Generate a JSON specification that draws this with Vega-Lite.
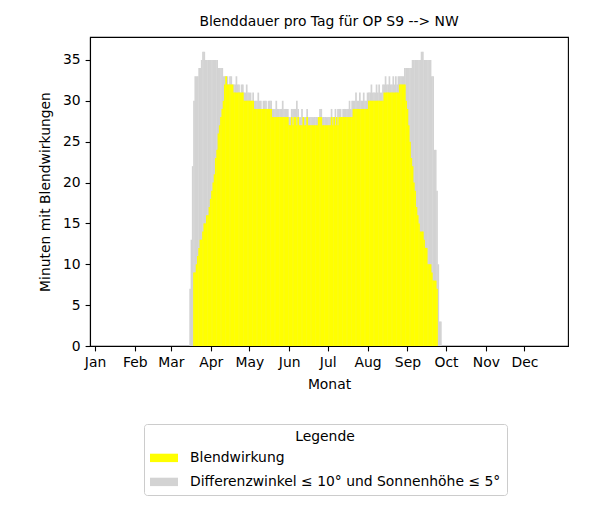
{
  "$schema": "https://vega.github.io/schema/vega-lite/v6.json",
  "width": 478,
  "height": 309,
  "autosize": {"type": "none"},
  "padding": {"left": 90, "top": 37, "right": 36, "bottom": 161},
  "background": "white",
  "title": {"text": "Blenddauer pro Tag für OP S9 --> NW", "fontSize": 13.9, "font": "DejaVu Sans", "fontWeight": "normal", "color": "black", "offset": 8, "anchor": "middle"},
  "datasets": {
    "grau": [
      {"d":74,"m":7},{"d":75,"m":13},{"d":76,"m":22},{"d":77,"m":30},{"d":78,"m":33},{"d":79,"m":33},{"d":80,"m":33},{"d":81,"m":34},{"d":82,"m":34},{"d":83,"m":35},
      {"d":84,"m":36},{"d":85,"m":36},{"d":86,"m":35},{"d":87,"m":35},{"d":88,"m":35},{"d":89,"m":35},{"d":90,"m":35},{"d":91,"m":35},{"d":92,"m":35},{"d":93,"m":35},
      {"d":94,"m":35},{"d":95,"m":35},{"d":96,"m":34},{"d":97,"m":34},{"d":98,"m":34},{"d":99,"m":34},{"d":100,"m":33},{"d":101,"m":33},{"d":102,"m":33},{"d":103,"m":33},
      {"d":104,"m":32},{"d":105,"m":33},{"d":106,"m":33},{"d":107,"m":32},{"d":108,"m":32},{"d":109,"m":32},{"d":110,"m":33},{"d":111,"m":32},{"d":112,"m":32},{"d":113,"m":31},
      {"d":114,"m":32},{"d":115,"m":32},{"d":116,"m":31},{"d":117,"m":31},{"d":118,"m":32},{"d":119,"m":31},{"d":120,"m":31},{"d":121,"m":31},{"d":122,"m":30},{"d":123,"m":31},
      {"d":124,"m":30},{"d":125,"m":30},{"d":126,"m":30},{"d":127,"m":31},{"d":128,"m":30},{"d":129,"m":30},{"d":130,"m":29},{"d":131,"m":30},{"d":132,"m":30},{"d":133,"m":30},
      {"d":134,"m":29},{"d":135,"m":30},{"d":136,"m":30},{"d":137,"m":30},{"d":138,"m":29},{"d":139,"m":29},{"d":140,"m":29},{"d":141,"m":30},{"d":142,"m":29},{"d":143,"m":29},
      {"d":144,"m":29},{"d":145,"m":29},{"d":146,"m":30},{"d":147,"m":29},{"d":148,"m":29},{"d":149,"m":29},{"d":150,"m":29},{"d":151,"m":28},{"d":152,"m":28},{"d":153,"m":29},
      {"d":154,"m":29},{"d":155,"m":29},{"d":156,"m":29},{"d":157,"m":30},{"d":158,"m":29},{"d":159,"m":28},{"d":160,"m":28},{"d":161,"m":29},{"d":162,"m":28},{"d":163,"m":28},
      {"d":164,"m":28},{"d":165,"m":29},{"d":166,"m":28},{"d":167,"m":28},{"d":168,"m":28},{"d":169,"m":28},{"d":170,"m":28},{"d":171,"m":28},{"d":172,"m":28},{"d":173,"m":28},
      {"d":174,"m":28},{"d":175,"m":29},{"d":176,"m":29},{"d":177,"m":28},{"d":178,"m":28},{"d":179,"m":28},{"d":180,"m":28},{"d":181,"m":28},{"d":182,"m":28},{"d":183,"m":28},
      {"d":184,"m":29},{"d":185,"m":28},{"d":186,"m":28},{"d":187,"m":29},{"d":188,"m":28},{"d":189,"m":29},{"d":190,"m":29},{"d":191,"m":29},{"d":192,"m":28},{"d":193,"m":29},
      {"d":194,"m":29},{"d":195,"m":29},{"d":196,"m":29},{"d":197,"m":29},{"d":198,"m":30},{"d":199,"m":29},{"d":200,"m":30},{"d":201,"m":30},{"d":202,"m":30},{"d":203,"m":31},
      {"d":204,"m":30},{"d":205,"m":30},{"d":206,"m":31},{"d":207,"m":30},{"d":208,"m":30},{"d":209,"m":31},{"d":210,"m":30},{"d":211,"m":30},{"d":212,"m":31},{"d":213,"m":31},
      {"d":214,"m":31},{"d":215,"m":32},{"d":216,"m":31},{"d":217,"m":31},{"d":218,"m":31},{"d":219,"m":32},{"d":220,"m":31},{"d":221,"m":32},{"d":222,"m":31},{"d":223,"m":31},
      {"d":224,"m":32},{"d":225,"m":32},{"d":226,"m":33},{"d":227,"m":32},{"d":228,"m":32},{"d":229,"m":33},{"d":230,"m":32},{"d":231,"m":32},{"d":232,"m":33},{"d":233,"m":32},
      {"d":234,"m":33},{"d":235,"m":32},{"d":236,"m":33},{"d":237,"m":33},{"d":238,"m":33},{"d":239,"m":33},{"d":240,"m":33},{"d":241,"m":34},{"d":242,"m":34},{"d":243,"m":34},
      {"d":244,"m":34},{"d":245,"m":34},{"d":246,"m":34},{"d":247,"m":35},{"d":248,"m":35},{"d":249,"m":35},{"d":250,"m":35},{"d":251,"m":35},{"d":252,"m":35},{"d":253,"m":35},
      {"d":254,"m":36},{"d":255,"m":36},{"d":256,"m":35},{"d":257,"m":35},{"d":258,"m":35},{"d":259,"m":35},{"d":260,"m":35},{"d":261,"m":35},{"d":262,"m":33},{"d":263,"m":33},
      {"d":264,"m":24},{"d":265,"m":24},{"d":266,"m":19},{"d":267,"m":10},{"d":268,"m":3},{"d":269,"m":3}
    ],
    "gelb": [
      {"d":77,"m":9},{"d":78,"m":9},{"d":79,"m":10},{"d":80,"m":11},{"d":81,"m":12},{"d":82,"m":13},{"d":83,"m":13},{"d":84,"m":14},{"d":85,"m":15},{"d":86,"m":15},
      {"d":87,"m":16},{"d":88,"m":16},{"d":89,"m":17},{"d":90,"m":18},{"d":91,"m":19},{"d":92,"m":20},{"d":93,"m":21},{"d":94,"m":23},{"d":95,"m":24},{"d":96,"m":26},
      {"d":97,"m":27},{"d":98,"m":28},{"d":99,"m":29},{"d":100,"m":30},{"d":101,"m":32},{"d":102,"m":33},{"d":103,"m":32},{"d":104,"m":32},{"d":105,"m":32},{"d":106,"m":32},
      {"d":107,"m":32},{"d":108,"m":31},{"d":109,"m":31},{"d":110,"m":31},{"d":111,"m":31},{"d":112,"m":31},{"d":113,"m":31},{"d":114,"m":31},{"d":115,"m":31},{"d":116,"m":30},
      {"d":117,"m":30},{"d":118,"m":30},{"d":119,"m":30},{"d":120,"m":30},{"d":121,"m":30},{"d":122,"m":30},{"d":123,"m":30},{"d":124,"m":29},{"d":125,"m":29},{"d":126,"m":29},
      {"d":127,"m":29},{"d":128,"m":29},{"d":129,"m":29},{"d":130,"m":29},{"d":131,"m":29},{"d":132,"m":29},{"d":133,"m":29},{"d":134,"m":29},{"d":135,"m":29},{"d":136,"m":29},
      {"d":137,"m":29},{"d":138,"m":28},{"d":139,"m":28},{"d":140,"m":28},{"d":141,"m":28},{"d":142,"m":28},{"d":143,"m":28},{"d":144,"m":28},{"d":145,"m":28},{"d":146,"m":28},
      {"d":147,"m":28},{"d":148,"m":28},{"d":149,"m":28},{"d":150,"m":28},{"d":151,"m":27},{"d":152,"m":27},{"d":153,"m":28},{"d":154,"m":27},{"d":155,"m":28},{"d":156,"m":28},
      {"d":157,"m":27},{"d":158,"m":28},{"d":159,"m":27},{"d":160,"m":27},{"d":161,"m":27},{"d":162,"m":28},{"d":163,"m":27},{"d":164,"m":27},{"d":165,"m":28},{"d":166,"m":27},
      {"d":167,"m":27},{"d":168,"m":27},{"d":169,"m":27},{"d":170,"m":27},{"d":171,"m":27},{"d":172,"m":27},{"d":173,"m":27},{"d":174,"m":28},{"d":175,"m":28},{"d":176,"m":28},
      {"d":177,"m":27},{"d":178,"m":27},{"d":179,"m":27},{"d":180,"m":27},{"d":181,"m":27},{"d":182,"m":27},{"d":183,"m":27},{"d":184,"m":28},{"d":185,"m":27},{"d":186,"m":28},
      {"d":187,"m":27},{"d":188,"m":28},{"d":189,"m":27},{"d":190,"m":28},{"d":191,"m":28},{"d":192,"m":28},{"d":193,"m":28},{"d":194,"m":28},{"d":195,"m":28},{"d":196,"m":28},
      {"d":197,"m":28},{"d":198,"m":28},{"d":199,"m":28},{"d":200,"m":28},{"d":201,"m":29},{"d":202,"m":29},{"d":203,"m":29},{"d":204,"m":29},{"d":205,"m":29},{"d":206,"m":29},
      {"d":207,"m":29},{"d":208,"m":29},{"d":209,"m":29},{"d":210,"m":29},{"d":211,"m":29},{"d":212,"m":29},{"d":213,"m":30},{"d":214,"m":30},{"d":215,"m":30},{"d":216,"m":30},
      {"d":217,"m":30},{"d":218,"m":30},{"d":219,"m":30},{"d":220,"m":30},{"d":221,"m":30},{"d":222,"m":30},{"d":223,"m":30},{"d":224,"m":30},{"d":225,"m":31},{"d":226,"m":31},
      {"d":227,"m":31},{"d":228,"m":31},{"d":229,"m":31},{"d":230,"m":31},{"d":231,"m":31},{"d":232,"m":31},{"d":233,"m":31},{"d":234,"m":31},{"d":235,"m":31},{"d":236,"m":31},
      {"d":237,"m":32},{"d":238,"m":32},{"d":239,"m":32},{"d":240,"m":32},{"d":241,"m":32},{"d":242,"m":30},{"d":243,"m":29},{"d":244,"m":27},{"d":245,"m":25},{"d":246,"m":23},
      {"d":247,"m":22},{"d":248,"m":20},{"d":249,"m":19},{"d":250,"m":17},{"d":251,"m":16},{"d":252,"m":15},{"d":253,"m":14},{"d":254,"m":14},{"d":255,"m":14},{"d":256,"m":13},
      {"d":257,"m":12},{"d":258,"m":12},{"d":259,"m":10},{"d":260,"m":10},{"d":261,"m":10},{"d":262,"m":9},{"d":263,"m":8},{"d":264,"m":8},{"d":265,"m":8},{"d":266,"m":7}
    ]
  },
  "encoding": {
    "x": {
      "field": "d", "type": "quantitative",
      "scale": {"domain": [0, 364], "nice": false, "zero": false},
      "axis": {
        "title": "Monat",
        "values": [0, 31, 59, 90, 120, 151, 181, 212, 243, 273, 304, 334],
        "labelExpr": "['Jan','Feb','Mar','Apr','May','Jun','Jul','Aug','Sep','Oct','Nov','Dec'][indexof([0,31,59,90,120,151,181,212,243,273,304,334], datum.value)]",
        "grid": false, "labelFlush": false, "labelOverlap": false, "labelAngle": 0, "titlePadding": 8
      }
    },
    "y": {
      "field": "m", "type": "quantitative",
      "scale": {"domain": [0, 37.8], "nice": false},
      "axis": {
        "title": "Minuten mit Blendwirkungen",
        "values": [0, 5, 10, 15, 20, 25, 30, 35],
        "grid": false, "labelFlush": false, "labelOverlap": false, "titlePadding": 10
      }
    }
  },
  "layer": [
    {
      "data": {"name": "grau"},
      "mark": {"type": "bar", "width": 1.7},
      "encoding": {
        "color": {
          "datum": "Differenzwinkel ≤ 10° und Sonnenhöhe ≤ 5°",
          "scale": {"domain": ["Blendwirkung", "Differenzwinkel ≤ 10° und Sonnenhöhe ≤ 5°"], "range": ["#ffff00", "#d3d3d3"]},
          "legend": {
            "title": "Legende",
            "orient": "none",
            "legendX": 54,
            "legendY": 387,
            "titleAnchor": "middle",
            "symbolType": "M-1,-0.3H1V0.3H-1Z",
            "symbolSize": 784,
            "symbolStrokeWidth": 0,
            "symbolOpacity": 1,
            "labelOffset": 12,
            "labelLimit": 0,
            "padding": 6,
            "rowPadding": 3,
            "titlePadding": 0,
            "strokeColor": "#cccccc",
            "fillColor": "white",
            "cornerRadius": 3
          }
        }
      }
    },
    {
      "data": {"name": "gelb"},
      "mark": {"type": "bar", "width": 1.7},
      "encoding": {
        "color": {"datum": "Blendwirkung"}
      }
    }
  ],
  "config": {
    "view": {"stroke": "black", "strokeWidth": 1.1},
    "axis": {
      "domainColor": "black", "domainWidth": 1.1,
      "tickColor": "black", "tickWidth": 1.1, "tickSize": 4.9,
      "labelPadding": 4.9,
      "labelFont": "DejaVu Sans", "labelFontSize": 13.9, "labelColor": "black",
      "titleFont": "DejaVu Sans", "titleFontSize": 13.9, "titleFontWeight": "normal", "titleColor": "black"
    },
    "legend": {
      "titleFont": "DejaVu Sans", "titleFontSize": 13.9, "titleFontWeight": "normal", "titleColor": "black",
      "labelFont": "DejaVu Sans", "labelFontSize": 13.9, "labelColor": "black"
    }
  }
}
